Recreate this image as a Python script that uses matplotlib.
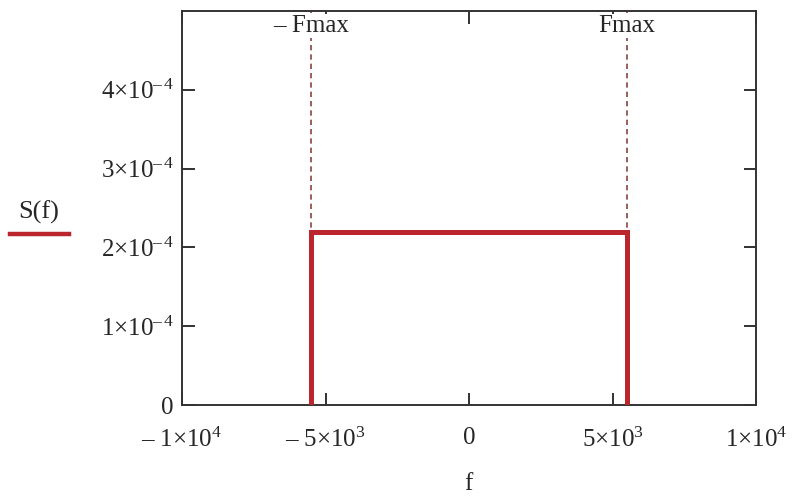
import matplotlib
matplotlib.use("Agg")
import matplotlib.pyplot as plt
import matplotlib.transforms as mtransforms
from matplotlib.ticker import FixedLocator, FixedFormatter

plt.rcParams['font.family'] = ['Liberation Serif', 'DejaVu Serif']
plt.rcParams['mathtext.fontset'] = 'custom'
plt.rcParams['mathtext.rm'] = 'Liberation Serif'
plt.rcParams['mathtext.it'] = 'Liberation Serif:italic'
plt.rcParams['mathtext.bf'] = 'Liberation Serif:bold'

# Data
Fmax = 5500.0
S_level = 2.2e-4
f_pts = [-Fmax, -Fmax, Fmax, Fmax]
S_pts = [0.0, S_level, S_level, 0.0]
marker_x = [-Fmax, Fmax]
marker_labels = ["\u2013 Fmax", "Fmax"]

xticks = [-1e4, -5e3, 0, 5e3, 1e4]
xticklabels = ["\u2013 1\u00d710$^{4}$", "\u2013 5\u00d710$^{3}$", "0",
               "5\u00d710$^{3}$", "1\u00d710$^{4}$"]
yticks = [0, 1e-4, 2e-4, 3e-4, 4e-4]
yticklabels = ["0", "1\u00d710$^{\u2013\\,4}$", "2\u00d710$^{\u2013\\,4}$",
               "3\u00d710$^{\u2013\\,4}$", "4\u00d710$^{\u2013\\,4}$"]
xlim = (-1e4, 1e4)
ylim = (0, 5e-4)

W, H = 797, 497
fig = plt.figure(figsize=(W / 100, H / 100), dpi=100)
ax = fig.add_axes([182 / W, 1 - 405 / H, (756 - 182) / W, (405 - 11) / H])

red = '#bb262c'
text_c = '#262626'
for mx in marker_x:
    ax.axvline(mx, color='#8a4444', lw=1.2, linestyle=(0, (3.2, 2.4)), zorder=1)
ax.plot(f_pts, S_pts, color=red, lw=3.6, solid_joinstyle='miter', zorder=3)

ax.set_xlim(*xlim)
ax.set_ylim(*ylim)

ax.xaxis.set_major_locator(FixedLocator(xticks))
ax.xaxis.set_major_formatter(FixedFormatter(xticklabels))
ax.yaxis.set_major_locator(FixedLocator(yticks))
ax.yaxis.set_major_formatter(FixedFormatter(yticklabels))

ax.tick_params(axis='both', direction='in', top=True, right=True,
               length=9, width=1.3, color='#222222', labelsize=18,
               labelcolor=text_c)
ax.tick_params(axis='x', pad=16)
ax.tick_params(axis='y', pad=6)

for s in ax.spines.values():
    s.set_color('#333333')
    s.set_linewidth(1.4)

trans = mtransforms.blended_transform_factory(ax.transData, ax.transAxes)
for mx, lab in zip(marker_x, marker_labels):
    ax.text(mx, 1 - 15 / 394, lab, transform=trans, ha='center', va='center',
            fontsize=18, color=text_c,
            bbox=dict(facecolor='white', edgecolor='none', pad=0.5), zorder=4)

fig.text(468 / W, 1 - 484 / H, "f", ha='center', va='center', fontsize=18, color=text_c)
fig.text(39 / W, 1 - 212 / H, "S(f)", ha='center', va='center', fontsize=19, color=text_c)
fig.add_artist(plt.Line2D([10 / W, 69 / W], [1 - 234 / H, 1 - 234 / H],
                          color=red, lw=3.2, transform=fig.transFigure))

fig.savefig("out.png", dpi=100)
